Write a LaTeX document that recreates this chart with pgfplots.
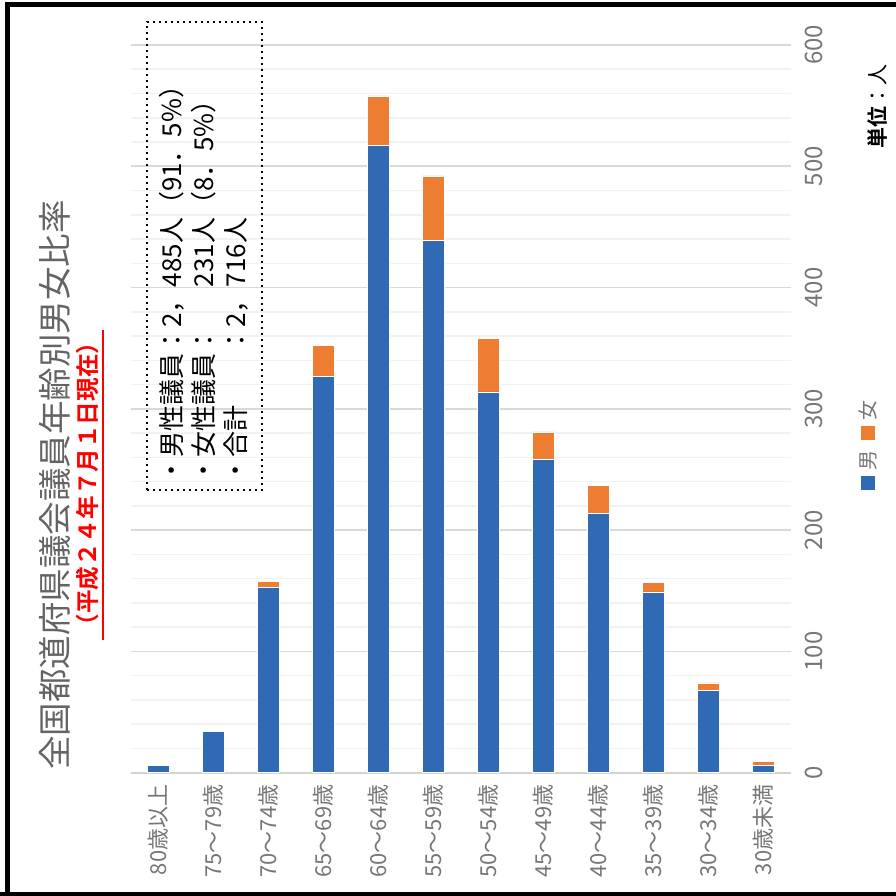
\documentclass[border=0pt]{standalone}
\usepackage{pgfplots}
\pgfplotsset{compat=1.18}
\usepackage{pgfplotstable}
\usepackage{fontspec}
\setmainfont{Noto Sans CJK JP}[BoldFont={Noto Sans CJK JP Bold}]
\definecolor{barblue}{RGB}{48,106,180}
\definecolor{barorange}{RGB}{237,125,49}
\definecolor{ticktext}{RGB}{118,118,118}
\definecolor{titlegray}{RGB}{100,100,100}
\newcommand{\legfont}{\fontsize{10pt}{12pt}\selectfont}

\pgfplotstableread{
idx male female
0 6 0
1 34 0
2 153 5
3 327 25
4 517 41
5 439 53
6 314 44
7 258 23
8 214 23
9 149 8
10 68 6
11 6 3
}\agedata

\begin{document}
\begin{tikzpicture}[x=1pt,y=1pt]
\useasboundingbox (0,0) rectangle (448,448);
\begin{axis}[
  at={(65.25pt,61.65pt)}, anchor=south west,
  scale only axis, width=330pt, height=363.85pt,
  ybar stacked, bar width=11pt,
  xmin=-0.5, xmax=11.5, ymin=0, ymax=600,
  xtick={0,...,11},
  xticklabels={80歳以上,75～79歳,70～74歳,65～69歳,60～64歳,55～59歳,50～54歳,45～49歳,40～44歳,35～39歳,30～34歳,30歳未満},
  ytick={0,100,...,600},
  minor y tick num=4,
  ymajorgrids, yminorgrids,
  major grid style={draw=gray!30, line width=0.8pt},
  minor grid style={draw=gray!10, line width=0.8pt},
  major tick length=0pt, minor tick length=0pt,
  axis x line*=bottom, axis y line*=right,
  x axis line style={draw=gray!35, line width=1pt, -},
  y axis line style={draw=none, -},
  yticklabel pos=right,
  xticklabel shift=2.5pt,
  yticklabel shift=4pt,
  xticklabel style={rotate=90, anchor=east, font=\fontsize{11pt}{13pt}\selectfont, text=ticktext},
  yticklabel style={rotate=90, anchor=north, font=\fontsize{12pt}{14pt}\selectfont, text=ticktext},
  /pgf/number format/assume math mode=true,
  legend style={at={(1.1235,0.4502)}, anchor=center, draw=none, fill=none,
    row sep=5pt, inner sep=0pt},
  legend columns=1,
  reverse legend,
]
\addplot[fill=barblue, draw=white, line width=0.3pt,
  legend image code/.code={\fill[barblue] (-3.25pt,-3.25pt) rectangle (3.25pt,3.25pt);
    \pgftext[bottom,at={\pgfpoint{0pt}{6.5pt}}]{\rotatebox{90}{\legfont\color{ticktext}男}}}]
  table[x=idx, y=male] {\agedata};
\addplot[fill=barorange, draw=white, line width=0.3pt,
  legend image code/.code={\fill[barorange] (-3.25pt,-3.25pt) rectangle (3.25pt,3.25pt);
    \pgftext[bottom,at={\pgfpoint{0pt}{6.5pt}}]{\rotatebox{90}{\legfont\color{ticktext}女}}}]
  table[x=idx, y=female] {\agedata};
\legend{\mbox{},\mbox{}}
\end{axis}

% title
\node[rotate=90, text=titlegray, font=\fontsize{16.75pt}{20pt}\selectfont] at (27.5,205.5) {全国都道府県議会議員年齢別男女比率};
\node[rotate=90, text=red, font=\bfseries\fontsize{11.8pt}{14pt}\selectfont] at (44,206) {（平成２４年７月１日現在）};
\draw[red, line width=0.6pt] (51.5,128) -- (51.5,283);

% info box
\draw[dotted, line width=1pt] (73.5,203) rectangle (131,437);
\node[rotate=90, anchor=north west, inner sep=0pt, font=\fontsize{13pt}{16pt}\selectfont] at (79.5,206) {%
\begin{tabular}{@{}l@{}l@{}r@{}l@{}}
・男性議員 & ： & 2，485人 & （91．5\%）\\
・女性議員 & ： & 231人 & （8．5\%）\\
・合計 & ： & 2，716人 & \\
\end{tabular}};

% unit
\node[rotate=90, font=\fontsize{10.5pt}{12pt}\selectfont] at (438.5,394.5) {\textbf{単位}：人};

% frame
\draw[line width=2.5pt] (3.75,0) -- (3.75,445.75) -- (448,445.75);
\draw[line width=2pt] (0,1) -- (448,1);
\end{tikzpicture}
\end{document}
